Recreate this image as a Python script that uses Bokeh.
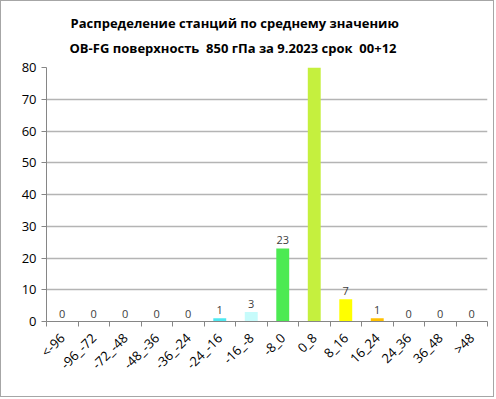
import math
from bokeh.plotting import figure
from bokeh.models import FixedTicker, Title, ColumnDataSource, Range1d
from bokeh.core.properties import value
from bokeh.embed import file_html
from bokeh.resources import INLINE

categories = ["<-96", "-96_-72", "-72_-48", "-48_-36", "-36_-24", "-24_-16", "-16_-8",
              "-8_0", "0_8", "8_16", "16_24", "24_36", "36_48", ">48"]
counts = [0, 0, 0, 0, 0, 1, 3, 23, 84, 7, 1, 0, 0, 0]
colors = ["#3050D0", "#3C78E0", "#40A0F0", "#40C0F0", "#40D8F0", "#4FE8F0", "#C6FBFB",
          "#4CEA52", "#C5F03E", "#FFFF00", "#FFC000", "#FF8000", "#FF4000", "#E00000"]
title_line1 = "Распределение станций по среднему значению"
title_line2 = "OB-FG поверхность\u00a0 850 гПа за 9.2023 срок\u00a0 00+12"
y_ticks = [0, 10, 20, 30, 40, 50, 60, 70, 80]

FONT = "Open Sans"

xs = [i + 0.5 for i in range(len(categories))]
src = ColumnDataSource(dict(x=xs, top=counts, color=colors,
                            label=[str(c) for c in counts]))

p = figure(width=494, height=397, output_backend="svg", toolbar_location=None,
           x_range=Range1d(0, len(categories)), y_range=Range1d(0, 80),
           min_border_left=45, min_border_right=8, min_border_top=66,
           min_border_bottom=77)
p.styles = {"border": "1px solid #A6A6A6"}
p.outline_line_color = None
p.background_fill_color = "white"
p.border_fill_color = "white"

p.vbar(x="x", top="top", bottom=0, width=0.41, fill_color="color", line_color=None,
       source=src)
p.text(x="x", y="top", text="label", source=src, text_align="center",
       text_baseline="bottom", y_offset=-4, text_font=value(FONT),
       text_font_size="11px", text_color="#404040")

# axes
p.xaxis.ticker = FixedTicker(ticks=xs, minor_ticks=list(range(len(categories) + 1)))
p.xaxis.major_label_overrides = {x: c for x, c in zip(xs, categories)}
p.xaxis.major_label_orientation = math.pi / 4
p.xaxis.major_tick_line_color = None
p.xaxis.minor_tick_out = 5
p.xaxis.minor_tick_in = 0
p.xaxis.minor_tick_line_color = "#868686"
p.xaxis.axis_line_color = "#868686"
p.xaxis.major_label_text_font = FONT
p.xaxis.major_label_text_font_size = "13px"
p.xaxis.major_label_text_color = "#000000"
p.xaxis.major_label_standoff = 8

p.yaxis.ticker = FixedTicker(ticks=y_ticks)
p.yaxis.major_tick_out = 5
p.yaxis.major_tick_in = 0
p.yaxis.minor_tick_line_color = None
p.yaxis.major_tick_line_color = "#868686"
p.yaxis.axis_line_color = "#868686"
p.yaxis.major_label_text_font = FONT
p.yaxis.major_label_text_font_size = "13px"
p.yaxis.major_label_text_color = "#000000"

p.xgrid.grid_line_color = None
p.ygrid.grid_line_color = "#B4B4B4"
p.ygrid.grid_line_width = 1.5

t2 = Title(text=title_line2, align="left", offset=23, standoff=22,
           text_font=FONT, text_font_size="13px", text_font_style="bold",
           text_color="#000000")
t1 = Title(text=title_line1, align="left", offset=24, standoff=-12,
           text_font=FONT, text_font_size="13px", text_font_style="bold",
           text_color="#000000")
p.add_layout(t2, "above")
p.add_layout(t1, "above")

open("out.html", "w").write(file_html(p, INLINE))
